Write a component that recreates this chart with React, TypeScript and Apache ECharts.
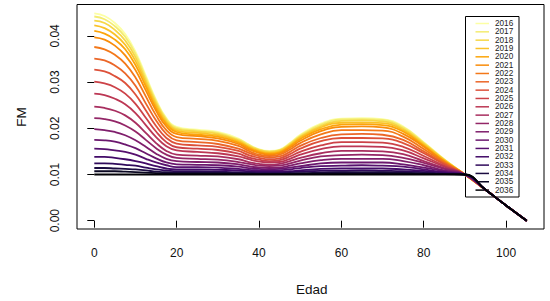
import React, { useEffect, useRef } from "react";
import * as echarts from "echarts";

const AGES = [0, 2.5, 5, 7.5, 10, 12.5, 15, 17.5, 20, 25, 30, 35, 37.5, 40, 42.5, 45, 47.5, 50, 55, 60, 65, 70, 75, 80, 85, 90, 95, 100, 105];

const FM_2016 = [0.0449, 0.0443, 0.0428, 0.0404, 0.0366, 0.0314, 0.0262, 0.0222, 0.0203, 0.0197, 0.0192, 0.0178, 0.0165, 0.0155, 0.0151, 0.0154, 0.0168, 0.0186, 0.0210, 0.0221, 0.0222, 0.0220, 0.0204, 0.0170, 0.0133, 0.0100, 0.0067, 0.0033, 0];
const FM_2017 = [0.0442, 0.0436, 0.0421, 0.0398, 0.0361, 0.0310, 0.0259, 0.0220, 0.0201, 0.0195, 0.0190, 0.0176, 0.0164, 0.0154, 0.0150, 0.0153, 0.0167, 0.0184, 0.0208, 0.0219, 0.0220, 0.0218, 0.0202, 0.0169, 0.0132, 0.0100, 0.0067, 0.0033, 0];
const FM_2018 = [0.0433, 0.0428, 0.0413, 0.0390, 0.0354, 0.0304, 0.0255, 0.0217, 0.0198, 0.0193, 0.0188, 0.0174, 0.0162, 0.0153, 0.0149, 0.0152, 0.0165, 0.0182, 0.0205, 0.0216, 0.0217, 0.0215, 0.0199, 0.0167, 0.0132, 0.0100, 0.0067, 0.0033, 0];
const FM_2019 = [0.0423, 0.0417, 0.0403, 0.0381, 0.0346, 0.0298, 0.0250, 0.0213, 0.0195, 0.0190, 0.0185, 0.0172, 0.0160, 0.0151, 0.0147, 0.0150, 0.0163, 0.0180, 0.0202, 0.0212, 0.0213, 0.0211, 0.0196, 0.0165, 0.0131, 0.0100, 0.0067, 0.0033, 0];
const FM_2020 = [0.0411, 0.0405, 0.0392, 0.0371, 0.0337, 0.0291, 0.0244, 0.0209, 0.0192, 0.0186, 0.0182, 0.0169, 0.0158, 0.0149, 0.0145, 0.0148, 0.0161, 0.0177, 0.0198, 0.0208, 0.0209, 0.0207, 0.0193, 0.0162, 0.0129, 0.0100, 0.0067, 0.0033, 0];
const FM_2021 = [0.0397, 0.0392, 0.0379, 0.0358, 0.0326, 0.0282, 0.0238, 0.0204, 0.0188, 0.0183, 0.0178, 0.0166, 0.0155, 0.0147, 0.0143, 0.0146, 0.0158, 0.0173, 0.0194, 0.0203, 0.0204, 0.0202, 0.0188, 0.0160, 0.0128, 0.0100, 0.0067, 0.0033, 0];
const FM_2022 = [0.0376, 0.0371, 0.0359, 0.0340, 0.0310, 0.0269, 0.0228, 0.0196, 0.0181, 0.0177, 0.0173, 0.0162, 0.0151, 0.0143, 0.0140, 0.0143, 0.0154, 0.0168, 0.0187, 0.0196, 0.0196, 0.0195, 0.0182, 0.0155, 0.0126, 0.0100, 0.0067, 0.0033, 0];
const FM_2023 = [0.0351, 0.0347, 0.0336, 0.0319, 0.0292, 0.0254, 0.0217, 0.0188, 0.0174, 0.0170, 0.0166, 0.0156, 0.0147, 0.0140, 0.0137, 0.0139, 0.0149, 0.0162, 0.0179, 0.0187, 0.0188, 0.0186, 0.0175, 0.0150, 0.0124, 0.0100, 0.0067, 0.0033, 0];
const FM_2024 = [0.0327, 0.0323, 0.0313, 0.0298, 0.0273, 0.0239, 0.0205, 0.0179, 0.0167, 0.0163, 0.0160, 0.0151, 0.0142, 0.0136, 0.0133, 0.0135, 0.0144, 0.0156, 0.0172, 0.0179, 0.0179, 0.0178, 0.0168, 0.0146, 0.0122, 0.0100, 0.0067, 0.0033, 0];
const FM_2025 = [0.0301, 0.0297, 0.0289, 0.0275, 0.0253, 0.0223, 0.0193, 0.0170, 0.0159, 0.0156, 0.0153, 0.0145, 0.0137, 0.0132, 0.0129, 0.0131, 0.0139, 0.0149, 0.0163, 0.0170, 0.0170, 0.0169, 0.0160, 0.0140, 0.0119, 0.0100, 0.0067, 0.0033, 0];
const FM_2026 = [0.0275, 0.0272, 0.0264, 0.0252, 0.0233, 0.0207, 0.0181, 0.0161, 0.0152, 0.0149, 0.0146, 0.0139, 0.0133, 0.0128, 0.0126, 0.0127, 0.0134, 0.0143, 0.0155, 0.0161, 0.0161, 0.0160, 0.0152, 0.0135, 0.0117, 0.0100, 0.0067, 0.0033, 0];
const FM_2027 = [0.0247, 0.0244, 0.0238, 0.0228, 0.0212, 0.0190, 0.0168, 0.0151, 0.0143, 0.0141, 0.0139, 0.0133, 0.0127, 0.0123, 0.0121, 0.0123, 0.0129, 0.0136, 0.0146, 0.0151, 0.0151, 0.0150, 0.0144, 0.0129, 0.0114, 0.0100, 0.0067, 0.0033, 0];
const FM_2028 = [0.0222, 0.0220, 0.0215, 0.0206, 0.0193, 0.0175, 0.0157, 0.0143, 0.0136, 0.0134, 0.0132, 0.0127, 0.0123, 0.0119, 0.0118, 0.0119, 0.0124, 0.0130, 0.0139, 0.0142, 0.0143, 0.0142, 0.0136, 0.0125, 0.0112, 0.0100, 0.0067, 0.0033, 0];
const FM_2029 = [0.0198, 0.0196, 0.0192, 0.0185, 0.0174, 0.0160, 0.0145, 0.0134, 0.0129, 0.0127, 0.0126, 0.0122, 0.0118, 0.0115, 0.0114, 0.0115, 0.0119, 0.0124, 0.0131, 0.0134, 0.0134, 0.0134, 0.0129, 0.0120, 0.0109, 0.0100, 0.0067, 0.0033, 0];
const FM_2030 = [0.0175, 0.0174, 0.0171, 0.0165, 0.0157, 0.0146, 0.0135, 0.0126, 0.0122, 0.0121, 0.0120, 0.0117, 0.0114, 0.0112, 0.0111, 0.0112, 0.0115, 0.0118, 0.0124, 0.0126, 0.0126, 0.0126, 0.0122, 0.0115, 0.0107, 0.0100, 0.0067, 0.0033, 0];
const FM_2031 = [0.0156, 0.0155, 0.0152, 0.0149, 0.0143, 0.0134, 0.0126, 0.0120, 0.0116, 0.0116, 0.0115, 0.0112, 0.0110, 0.0109, 0.0108, 0.0109, 0.0111, 0.0114, 0.0118, 0.0119, 0.0120, 0.0119, 0.0117, 0.0111, 0.0105, 0.0100, 0.0067, 0.0033, 0];
const FM_2032 = [0.0138, 0.0138, 0.0136, 0.0133, 0.0129, 0.0124, 0.0118, 0.0113, 0.0111, 0.0111, 0.0110, 0.0109, 0.0107, 0.0106, 0.0106, 0.0106, 0.0107, 0.0109, 0.0112, 0.0113, 0.0113, 0.0113, 0.0111, 0.0108, 0.0104, 0.0100, 0.0067, 0.0033, 0];
const FM_2033 = [0.0124, 0.0124, 0.0123, 0.0121, 0.0119, 0.0115, 0.0111, 0.0109, 0.0107, 0.0107, 0.0106, 0.0105, 0.0105, 0.0104, 0.0104, 0.0104, 0.0105, 0.0106, 0.0108, 0.0108, 0.0109, 0.0108, 0.0107, 0.0105, 0.0102, 0.0100, 0.0067, 0.0033, 0];
const FM_2034 = [0.0114, 0.0114, 0.0113, 0.0112, 0.0111, 0.0109, 0.0106, 0.0105, 0.0104, 0.0104, 0.0104, 0.0103, 0.0103, 0.0102, 0.0102, 0.0102, 0.0103, 0.0103, 0.0104, 0.0105, 0.0105, 0.0105, 0.0104, 0.0103, 0.0101, 0.0100, 0.0067, 0.0033, 0];
const FM_2035 = [0.0107, 0.0107, 0.0107, 0.0106, 0.0105, 0.0104, 0.0103, 0.0102, 0.0102, 0.0102, 0.0102, 0.0102, 0.0101, 0.0101, 0.0101, 0.0101, 0.0101, 0.0102, 0.0102, 0.0102, 0.0102, 0.0102, 0.0102, 0.0101, 0.0101, 0.0100, 0.0067, 0.0033, 0];
const FM_2036 = [0.0100, 0.0100, 0.0100, 0.0100, 0.0100, 0.0100, 0.0100, 0.0100, 0.0100, 0.0100, 0.0100, 0.0100, 0.0100, 0.0100, 0.0100, 0.0100, 0.0100, 0.0100, 0.0100, 0.0100, 0.0100, 0.0100, 0.0100, 0.0100, 0.0100, 0.0100, 0.0067, 0.0033, 0];

const YEARS = ["2016", "2017", "2018", "2019", "2020", "2021", "2022", "2023", "2024", "2025", "2026", "2027", "2028", "2029", "2030", "2031", "2032", "2033", "2034", "2035", "2036"];
const SERIES_VALUES = [FM_2016, FM_2017, FM_2018, FM_2019, FM_2020, FM_2021, FM_2022, FM_2023, FM_2024, FM_2025, FM_2026, FM_2027, FM_2028, FM_2029, FM_2030, FM_2031, FM_2032, FM_2033, FM_2034, FM_2035, FM_2036];
const COLORS = ["#FCFFA4", "#F4EC72", "#F6D746", "#FAC228", "#FCA50A", "#F98C0A", "#F37819", "#EB6628", "#DD513A", "#CC4248", "#BC3754", "#A82E5F", "#932667", "#7F1E6C", "#6B176E", "#56106E", "#420A68", "#2F0A5B", "#1B0C41", "#0A0722", "#000004"];

const X_TICKS = [0, 20, 40, 60, 80, 100];
const Y_TICKS = [0, 0.01, 0.02, 0.03, 0.04];

const FONT = "'Liberation Sans', Arial, sans-serif";

export default function App() {
  const ref = useRef<HTMLDivElement>(null);
  useEffect(() => {
    if (!ref.current) return;
    const chart = echarts.init(ref.current, null, { renderer: "svg" });

    const series = YEARS.map((year, i) => ({
      name: year,
      type: "line",
      data: AGES.map((a, j) => [a, SERIES_VALUES[i][j]]),
      showSymbol: false,
      symbol: "none",
      smooth: 0.45,
      clip: false,
      lineStyle: { color: COLORS[i], width: 1.8 },
      itemStyle: { color: COLORS[i] },
      z: 2 + i,
    }));

    const legendTop = 23.5;
    const legendStep = 8.33;
    const legendChildren: any[] = [
      {
        type: "rect",
        shape: { x: 465.5, y: 16.5, width: 53.5, height: 180.5 },
        style: { fill: "#fff", stroke: "#000", lineWidth: 1 },
      },
    ];
    YEARS.forEach((year, i) => {
      const y = legendTop + legendStep * i;
      legendChildren.push({
        type: "line",
        shape: { x1: 475.5, y1: y, x2: 489, y2: y },
        style: { stroke: COLORS[i], lineWidth: 1.5 },
      });
      legendChildren.push({
        type: "text",
        x: 495,
        y: y,
        style: { text: year, fontSize: 8.2, fontFamily: FONT, fill: "#222", textAlign: "left", verticalAlign: "middle" },
      });
    });

    chart.setOption({
      animation: false,
      backgroundColor: "#fff",
      grid: { left: 77, right: 6, top: 4.5, bottom: 72, show: true, borderColor: "#000", borderWidth: 1 },
      xAxis: {
        type: "value",
        min: -4.2,
        max: 109.2,
        axisLine: { show: false },
        splitLine: { show: false },
        axisTick: { show: true, length: 7, lineStyle: { color: "#000" }, customValues: X_TICKS },
        axisLabel: { customValues: X_TICKS, margin: 18, fontSize: 12, color: "#111", fontFamily: FONT },
      },
      yAxis: {
        type: "value",
        min: -0.0018,
        max: 0.0468,
        axisLine: { show: false },
        splitLine: { show: false },
        axisTick: { show: true, length: 7, lineStyle: { color: "#000" }, customValues: Y_TICKS },
        axisLabel: {
          customValues: Y_TICKS,
          rotate: 90,
          margin: 16,
          fontSize: 12,
          color: "#111",
          fontFamily: FONT,
          formatter: (v: number) => v.toFixed(2),
        },
      },
      series,
      graphic: [
        {
          type: "text",
          x: 311.7,
          y: 289,
          style: { text: "Edad", fontSize: 13.5, fontFamily: FONT, fill: "#111", textAlign: "center", verticalAlign: "middle" },
        },
        {
          type: "text",
          x: 21,
          y: 117,
          rotation: Math.PI / 2,
          style: { text: "FM", fontSize: 13.5, fontFamily: FONT, fill: "#111", textAlign: "center", verticalAlign: "middle" },
        },
        { type: "group", z: 100, children: legendChildren },
      ],
    });
    return () => chart.dispose();
  }, []);
  return <div ref={ref} style={{ position: "absolute", left: 0, top: 0, width: 550, height: 301, background: "#fff" }} />;
}
